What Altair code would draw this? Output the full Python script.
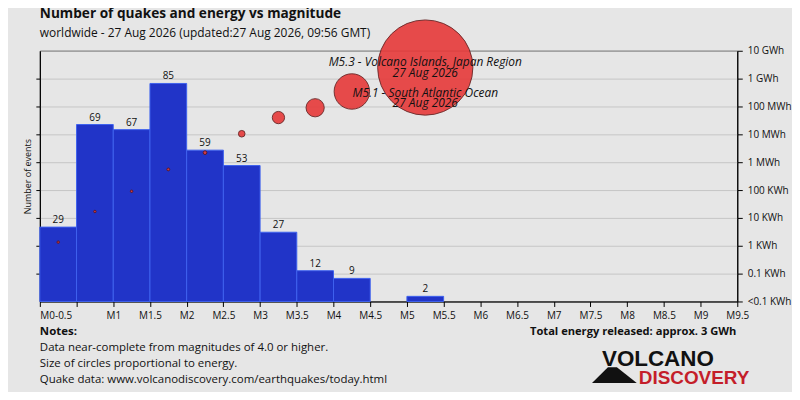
import json
import altair as alt
import pandas as pd

# ---------------- data ----------------
title_text = "Number of quakes and energy vs magnitude"
subtitle_text = "worldwide - 27 Aug 2026 (updated:27 Aug 2026, 09:56 GMT)"

bin_lo = [0.0, 0.5, 1.0, 1.5, 2.0, 2.5, 3.0, 3.5, 4.0, 5.0]
bin_hi = [0.5, 1.0, 1.5, 2.0, 2.5, 3.0, 3.5, 4.0, 4.5, 5.5]
counts = [29, 69, 67, 85, 59, 53, 27, 12, 9, 2]
energy_kwh = [1.35, 17, 90, 550, 2200, 10500, 40000, 90000, 345000, 2500000]

x_tick_values = [0.0, 0.5, 1.0, 1.5, 2.0, 2.5, 3.0, 3.5, 4.0, 4.5, 5.0, 5.5, 6.0,
                 6.5, 7.0, 7.5, 8.0, 8.5, 9.0, 9.5]
x_tick_labels = ["M0-0.5", "", "M1", "M1.5", "M2", "M2.5", "M3", "M3.5", "M4", "M4.5",
                 "M5", "M5.5", "M6", "M6.5", "M7", "M7.5", "M8", "M8.5", "M9", "M9.5"]

energy_tick_values = [0.01, 0.1, 1, 10, 100, 1e3, 1e4, 1e5, 1e6, 1e7]
energy_tick_labels = ["<0.1 KWh", "0.1 KWh", "1 KWh", "10 KWh", "100 KWh", "1 MWh",
                      "10 MWh", "100 MWh", "1 GWh", "10 GWh"]

ann_mag = [5.25, 5.25]
ann_energy = [1.56e6, 7.8e5]
ann_text = ["M5.3 - Volcano Islands, Japan Region\n27 Aug 2026",
            "M5.1 - South Atlantic Ocean\n27 Aug 2026"]

notes_title = "Notes:"
notes_lines = ["Data near-complete from magnitudes of 4.0 or higher.",
               "Size of circles proportional to energy.",
               "Quake data: www.volcanodiscovery.com/earthquakes/today.html"]
total_text = "Total energy released: approx. 3 GWh"
logo_top = "VOLCANO"
logo_bottom = "DISCOVERY"

# ---------------- styling ----------------
FONT = "Open Sans"
BG = "#e6e6e6"
W, H = 701, 252

bars_df = pd.DataFrame({"lo": bin_lo, "hi": bin_hi, "count": counts})
energy_df = pd.DataFrame({"lo": bin_lo, "hi": bin_hi, "energy": energy_kwh})
ann_df = pd.DataFrame({"mag": ann_mag, "energy": ann_energy, "text": ann_text})
one = pd.DataFrame({"k": [0]})

x_scale = alt.Scale(domain=[0, 9.5], nice=False, zero=False)
x_axis = alt.Axis(
    values=x_tick_values,
    labelExpr=json.dumps(x_tick_labels) + "[round(datum.value*2)]",
    labelAlign={"condition": {"test": "datum.value == 0", "value": "left"}, "value": "center"},
    title=None, grid=False, tickSize=5, labelPadding=4, labelFont=FONT,
    labelFontSize=10, labelColor="#111", domainColor="black", tickColor="black",
    labelOverlap=False, labelFlush=False,
)


def xenc(field):
    return alt.X(f"{field}:Q", scale=x_scale, axis=x_axis, title=None)


count_max = max(counts) * 1.15
y_count = alt.Y(
    "count:Q",
    scale=alt.Scale(domain=[0, count_max], nice=False),
    axis=alt.Axis(orient="left", values=[count_max * i / 9 for i in range(1, 9)],
                  labels=False, grid=False, tickSize=4, tickColor="black",
                  domainColor="black", title="Number of events", titleFont=FONT,
                  titleFontSize=9, titleFontWeight="normal", titleColor="#111",
                  titlePadding=3),
)

y_energy = alt.Y(
    "energy:Q",
    scale=alt.Scale(type="log", domain=[0.01, 1e7], nice=False),
    axis=alt.Axis(orient="right", values=energy_tick_values,
                  labelExpr=json.dumps(energy_tick_labels) + "[round(log(datum.value)/LN10)+2]",
                  grid=True, gridColor="#c6c6c6", gridWidth=1, tickSize=5,
                  tickColor="black", domainColor="black", labelPadding=5,
                  labelFont=FONT, labelFontSize=10, labelColor="#111", title=None,
                  labelOverlap=False),
)

bars = alt.Chart(bars_df).mark_bar(
    fill="#2134c8", stroke="#3e62ee", strokeWidth=1, opacity=1
).encode(x=xenc("lo"), x2="hi:Q", y=y_count, y2=alt.datum(0))

bar_labels = alt.Chart(bars_df).transform_calculate(
    mid="(datum.lo + datum.hi) / 2"
).mark_text(font=FONT, fontSize=10, color="#111", baseline="alphabetic", dy=-4).encode(
    x=xenc("mid"), y=y_count, text="count:Q"
)

count_group = alt.layer(bars, bar_labels)

circles = alt.Chart(energy_df).transform_calculate(
    mid="(datum.lo + datum.hi) / 2"
).mark_point(filled=True, shape="circle", fill="#e63a3a", stroke="#5a1414",
             strokeWidth=0.9, opacity=0.9).encode(
    x=xenc("mid"), y=y_energy,
    size=alt.Size("energy:Q", scale=alt.Scale(domain=[0, max(energy_kwh)], range=[6, 9160]),
                  legend=None),
)

ann1 = alt.Chart(ann_df.iloc[[0]]).mark_text(
    font=FONT, fontSize=12, fontStyle="italic", color="#111", lineBreak="\n",
    lineHeight=11, baseline="alphabetic", dy=-7
).encode(x=xenc("mag"), y=y_energy, text="text:N")

ann2 = alt.Chart(ann_df.iloc[[1]]).mark_text(
    font=FONT, fontSize=12, fontStyle="italic", color="#111", lineBreak="\n",
    lineHeight=10, baseline="alphabetic", dy=15
).encode(x=xenc("mag"), y=y_energy, text="text:N")

energy_group = alt.layer(circles, ann1, ann2)


def txt(s, x, y, size, weight="normal", align="left", color="#111", font=FONT):
    return alt.Chart(one).mark_text(
        text=s, font=font, fontSize=size, fontWeight=weight, align=align,
        baseline="alphabetic", color=color
    ).encode(x=alt.value(x), y=alt.value(y))


texts = [
    txt(title_text, 0, -33, 13.7, "bold"),
    txt(subtitle_text, 0, -13.5, 12),
    txt(notes_title, 0, 286, 11.5, "bold"),
    txt(notes_lines[0], 0, 302, 11.5),
    txt(notes_lines[1], 0, 317.5, 11.5),
    txt(notes_lines[2], 0, 333.5, 11.5),
    txt(total_text, 700, 286, 11.2, "bold", align="right"),
    txt(logo_top, 565, 317, 22.5, "bold", color="#111", font="Liberation Sans"),
    txt(logo_bottom, 602, 335, 19, "bold", color="#c41e2a", font="Liberation Sans"),
    alt.Chart(one).mark_point(
        shape="M-1,0.356L-0.289,-0.356L0.111,-0.356L1,0.356Z", filled=True,
        fill="#111", opacity=1, size=2025, strokeWidth=0
    ).encode(x=alt.value(577.5), y=alt.value(326)),
]
text_group = alt.layer(*texts)

chart = alt.layer(count_group, energy_group, text_group).resolve_scale(
    y="independent"
).properties(
    width=W, height=H, autosize="none",
    padding={"left": 32, "top": 42, "right": 55, "bottom": 90},
    background=BG,
).configure_view(stroke="black", strokeWidth=1, fill=BG)

chart.save("out.html", embed_options={"renderer": "svg", "actions": False})
